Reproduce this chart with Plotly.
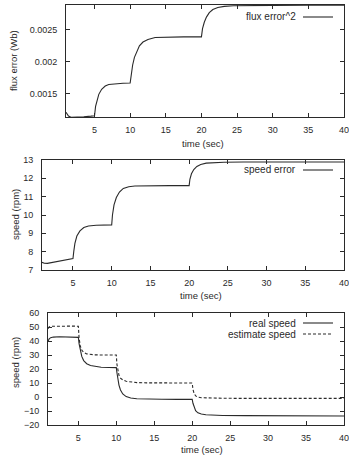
import plotly.graph_objects as go

# ---------------- data ----------------
t_flux = [1.0, 1.15, 1.35, 1.7, 2.5, 3.5, 4.5, 5.0, 5.15, 5.35, 5.6, 6.0, 6.5, 7.0, 8.0, 9.0, 10.0,
          10.15, 10.35, 10.6, 10.9, 11.3, 11.8, 12.5, 13.5, 15.0, 17.5, 20.0,
          20.15, 20.4, 20.7, 21.1, 21.6, 22.3, 23.2, 24.5, 27, 30, 35, 40]
flux_err = [0.00121, 0.00118, 0.00115, 0.00113, 0.00113, 0.001138, 0.001148, 0.001155, 0.00130, 0.00140,
            0.00149, 0.00157, 0.00162, 0.001645, 0.00166, 0.001665, 0.001668,
            0.00182, 0.00195, 0.00207, 0.00216, 0.00225, 0.00231, 0.00235, 0.00238, 0.002388, 0.00239, 0.00239,
            0.00252, 0.00262, 0.00270, 0.00277, 0.00282, 0.00285, 0.002868, 0.002878, 0.002883, 0.002884,
            0.002885, 0.002885]

t_spd = [1.0, 1.3, 1.7, 2.2, 3.0, 4.0, 5.0, 5.1, 5.25, 5.5, 5.9, 6.4, 7.0, 8.0, 9.0, 10.0,
         10.1, 10.3, 10.6, 11.0, 11.5, 12.2, 13.0, 15.0, 17.5, 20.0,
         20.1, 20.3, 20.6, 21.0, 21.5, 22.2, 23.0, 24.5, 27, 30, 35, 40]
speed_err = [7.42, 7.37, 7.36, 7.40, 7.48, 7.56, 7.62, 8.0, 8.45, 8.85, 9.13, 9.32, 9.40, 9.44, 9.45, 9.46,
             10.0, 10.55, 10.95, 11.25, 11.45, 11.54, 11.58, 11.6, 11.6, 11.6,
             11.95, 12.25, 12.48, 12.65, 12.76, 12.83, 12.86, 12.88, 12.89, 12.89, 12.89, 12.89]

t_cmp = [1.0, 1.15, 1.35, 1.7, 2.5, 3.5, 4.5, 5.0, 5.1, 5.25, 5.45, 5.7, 6.1, 6.6, 7.2, 8.0, 9.0, 10.0,
         10.08, 10.2, 10.35, 10.55, 10.85, 11.3, 11.9, 12.7, 14.0, 16.0, 18.0, 20.0,
         20.1, 20.25, 20.45, 20.75, 21.2, 21.8, 22.6, 24.0, 27, 30, 35, 40]
real_speed = [39.8, 41.5, 42.4, 42.8, 43.0, 43.0, 42.8, 42.6, 38, 33, 29, 26, 23.8, 22.5, 21.8, 21.3, 21.1, 21.0,
              17.5, 12.5, 8.5, 5.0, 2.2, 0.3, -0.7, -1.2, -1.5, -1.6, -1.7, -1.7,
              -4.5, -7.5, -9.8, -11.3, -12.2, -12.7, -13.0, -13.2, -13.3, -13.4, -13.5, -13.6]
est_speed = [48.8, 50.0, 50.5, 50.6, 50.6, 50.6, 50.6, 50.5, 42, 36.5, 33.5, 31.8, 30.8, 30.3, 30.1, 30.0, 30.0, 30.0,
             23.5, 18.5, 15.5, 13.5, 12.2, 11.2, 10.6, 10.3, 10.1, 10.0, 10.0, 10.0,
             5.5, 2.5, 0.8, -0.1, -0.5, -0.7, -0.8, -0.9, -1.0, -1.0, -1.0, -1.0]

x_ticks = [5, 10, 15, 20, 25, 30, 35, 40]
flux_ticks = [0.0015, 0.002, 0.0025]
flux_ticktext = ["0.0015", "0.002", "0.0025"]
spd_ticks = [7, 8, 9, 10, 11, 12, 13]
cmp_ticks = [-20, -10, 0, 10, 20, 30, 40, 50, 60]

# ---------------- figure ----------------
W, H = 349, 456
INK = "#2a2a2a"
FONT = "Liberation Sans, Arial, sans-serif"

fig = go.Figure()
fig.add_trace(go.Scatter(x=t_flux, y=flux_err, mode="lines", line=dict(color=INK, width=1.1),
                         xaxis="x", yaxis="y", showlegend=False))
fig.add_trace(go.Scatter(x=t_spd, y=speed_err, mode="lines", line=dict(color=INK, width=1.1),
                         xaxis="x2", yaxis="y2", showlegend=False))
fig.add_trace(go.Scatter(x=t_cmp, y=real_speed, mode="lines", line=dict(color=INK, width=1.1),
                         xaxis="x3", yaxis="y3", showlegend=False))
fig.add_trace(go.Scatter(x=t_cmp, y=est_speed, mode="lines", line=dict(color=INK, width=1.1, dash="3px,2px"),
                         xaxis="x3", yaxis="y3", showlegend=False))


def px(v):
    return v / W


def py(v):
    return 1 - v / H


common_x = dict(range=[1, 40], tickvals=x_ticks, ticks="inside", ticklen=4, tickcolor=INK,
                showline=True, linecolor=INK, linewidth=1, mirror="ticks", showgrid=False,
                zeroline=False, automargin=False, tickfont=dict(size=9, color=INK, family=FONT),
                ticklabelstandoff=4, ticklabeloverflow="allow")
common_y = dict(ticks="inside", ticklen=4, tickcolor=INK,
                showline=True, linecolor=INK, linewidth=1, mirror="ticks", showgrid=False,
                zeroline=False, automargin=False, tickfont=dict(size=9, color=INK, family=FONT),
                ticklabelstandoff=6, ticklabeloverflow="allow")

fig.update_layout(
    width=W, height=H, margin=dict(l=0, r=0, t=0, b=0),
    paper_bgcolor="white", plot_bgcolor="white",
    font=dict(family=FONT, color=INK),
    xaxis=dict(domain=[px(66), px(344)], anchor="y", **common_x),
    yaxis=dict(domain=[py(117), py(5)], anchor="x", range=[0.001135, 0.00289],
               tickvals=flux_ticks, ticktext=flux_ticktext, **common_y),
    xaxis2=dict(domain=[px(42), px(344)], anchor="y2", **common_x),
    yaxis2=dict(domain=[py(270), py(160)], anchor="x2", range=[7, 13], tickvals=spd_ticks, **common_y),
    xaxis3=dict(domain=[px(48), px(344)], anchor="y3", **common_x),
    yaxis3=dict(domain=[py(425), py(313)], anchor="x3", range=[-20, 60], tickvals=cmp_ticks, **common_y),
)

ann = []
shapes = []
tfont = dict(size=9.5, color=INK, family=FONT)
lfont = dict(size=10, color=INK, family=FONT)
# x titles
for cx, cy in [(203, 143), (201, 295), (202, 449)]:
    ann.append(dict(text="time (sec)", x=px(cx), y=py(cy), xref="paper", yref="paper",
                    showarrow=False, xanchor="center", yanchor="middle", font=tfont))
# y titles
for txt, cx, cy in [("flux error (Wb)", 13, 61), ("speed (rpm)", 15, 214), ("speed (rpm)", 15, 362)]:
    ann.append(dict(text=txt, x=px(cx), y=py(cy), xref="paper", yref="paper", textangle=-90,
                    showarrow=False, xanchor="center", yanchor="middle", font=tfont))
# legends
for txt, cy, dash in [("flux error^2", 17, "solid"), ("speed error", 170, "solid"),
                      ("real speed", 323, "solid"), ("estimate speed", 334, "3px,2px")]:
    ann.append(dict(text=txt, x=px(298), y=py(cy), xref="paper", yref="paper",
                    showarrow=False, xanchor="right", yanchor="middle", font=lfont))
    shapes.append(dict(type="line", xref="paper", yref="paper", x0=px(303), x1=px(333),
                       y0=py(cy), y1=py(cy), line=dict(color=INK, width=1.1, dash=dash)))

fig.update_layout(annotations=ann, shapes=shapes)
fig.write_html("out.html")
